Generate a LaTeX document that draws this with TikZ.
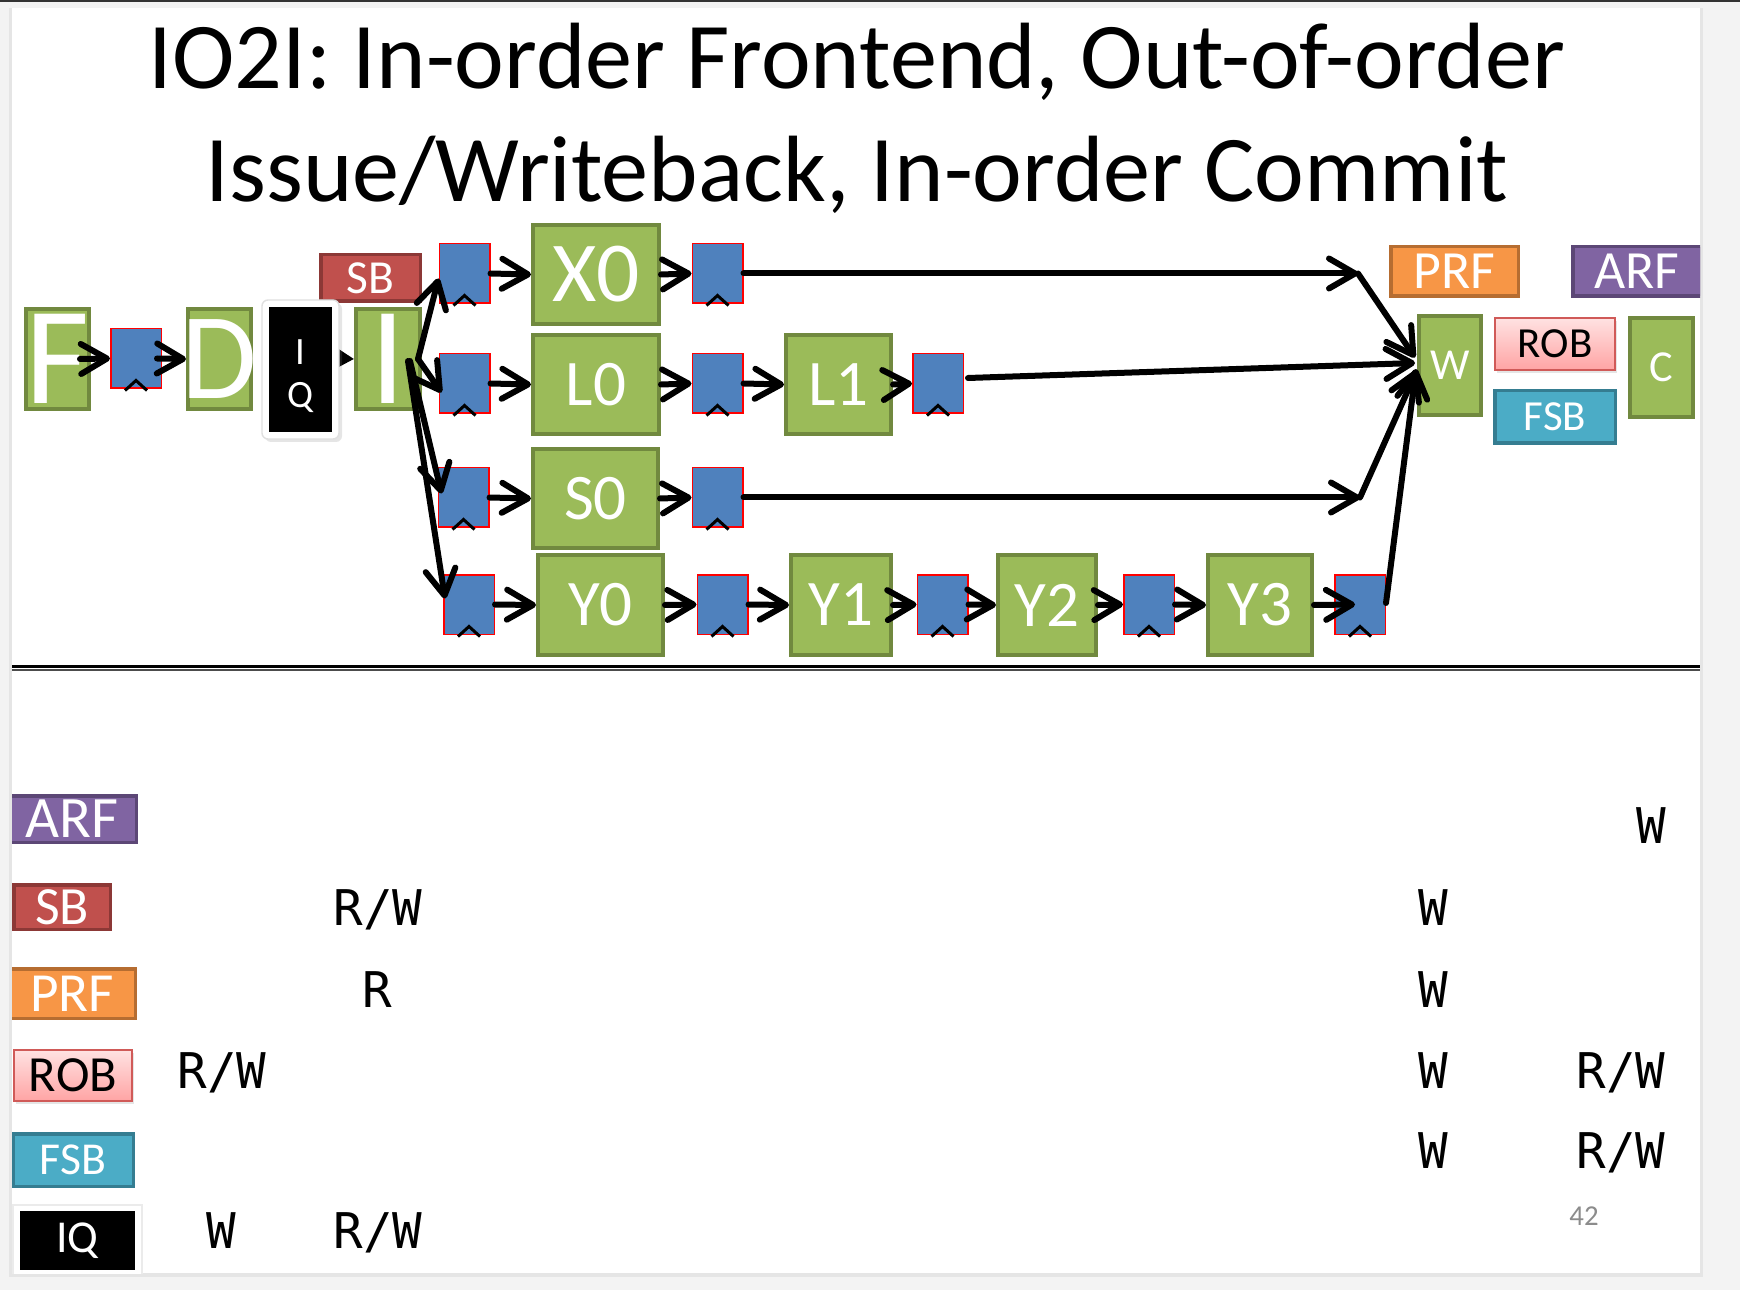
\documentclass[tikz,border=0pt]{standalone}
\usepackage{fontspec}
\setmainfont{Carlito}
\newfontfamily\monofont{DejaVu Sans Mono}
\usepackage{xcolor}
\usepackage{tikz}
\usetikzlibrary{arrows.meta, positioning, shadows}

\definecolor{stagegreen}{HTML}{9BBB59}
\definecolor{stageedge}{HTML}{71893F}
\definecolor{latchblue}{HTML}{4F81BD}
\definecolor{sbred}{HTML}{C0504D}
\definecolor{sbedge}{HTML}{8C3836}
\definecolor{prforange}{HTML}{F79646}
\definecolor{prfedge}{HTML}{B66D31}
\definecolor{arfpurple}{HTML}{8064A2}
\definecolor{arfedge}{HTML}{5C4776}
\definecolor{fsbcyan}{HTML}{4BACC6}
\definecolor{fsbedge}{HTML}{357D91}
\definecolor{robtop}{HTML}{FFE2E2}
\definecolor{robbot}{HTML}{FFA4A4}
\definecolor{robedge}{HTML}{D05A58}
\definecolor{slidegray}{HTML}{F3F3F3}

\newcommand{\fsz}[1]{\fontsize{#1}{#1}\selectfont}
\newcommand{\zwbox}[1]{\makebox[0pt]{#1}}

\begin{document}
\begin{tikzpicture}[x=0.1mm, y=-0.1mm,
        stage/.style={draw=stageedge, fill=stagegreen, line width=0.4mm, inner sep=0pt, text=white},
        latch/.style={draw=red, fill=latchblue, line width=0.15mm, inner sep=0pt, minimum width=5.05mm, minimum height=5.95mm},
        clk/.style={line width=0.3mm},
        tag/.style={line width=0.35mm, inner sep=0pt, text=white},
        arr/.style={line width=0.6mm, line cap=round, -{Straight Barb[length=2.6mm, width=3mm, round]}},
        entry/.style={anchor=base, font=\monofont\fsz{14}}]
        \useasboundingbox (0,0) rectangle (1740,1290);

        % Slide
        \fill[slidegray] (0,0) rectangle (1740,1290);
        \fill[black!80] (0,0) rectangle (1740,2.5);
        \fill[black!10] (9,8) rectangle (1703,1277);
        \fill[white] (12,8) rectangle (1700,1273);

        \begin{scope}
        \clip (12,8) rectangle (1700,1273);

        % Title
        \node[anchor=base, font=\fsz{26.8}] (title1) at (857,89) {IO2I: In-order Frontend, Out-of-order};
        \node[anchor=base, font=\fsz{26.8}] (title2) at (857,202) {Issue/Writeback, In-order Commit};

        % Frontend
        \node[stage, minimum width=6.3mm, minimum height=10mm, font=\fsz{39.6}] (F) at (57.5,359) {\zwbox{F}};
        \node[stage, minimum width=6.3mm, minimum height=10mm, font=\fsz{35}] (D) at (219.5,359) {\zwbox{D}};
        \node[stage, minimum width=6.4mm, minimum height=10mm, font=\fsz{39.6}] (I) at (388,359) {\zwbox{I}};
        \node[tag, draw=sbedge, fill=sbred, minimum width=9.95mm, minimum height=4.65mm, font=\fsz{13.5}] (SB) at (370.5,278) {SB};
        \draw[line width=0.4mm, -{Triangle[length=1.8mm, width=2mm]}] (332,358) -- (I.west);
        \node[fill=white, draw=black!12, rounded corners=0.6mm, minimum width=7.7mm, minimum height=13.9mm,
              drop shadow={opacity=0.2, shadow xshift=0.3mm, shadow yshift=-0.3mm}] (IQframe) at (300.5,369.5) {};
        \node[fill=black, inner sep=0pt, minimum width=6.3mm, minimum height=12.5mm] (IQ) at (300.5,369.5) {};
        \node[text=white, font=\fsz{11}] (IQi) at (300.5,352) {I};
        \node[text=white, font=\fsz{11}] (IQq) at (300.5,398) {Q};

        % Execution pipes
        \node[stage, minimum width=12.6mm, minimum height=9.9mm, font=\fsz{24.3}] (X0) at (596,274.5) {X0};
        \foreach \n/\x/\y/\w in {L0/596/384.5/12.6, S0/595.5/498.5/12.5, Y0/600.5/605/12.5, L1/838.5/384.5/10.5,
                                 Y1/841/605/10.0, Y2/1047/605/9.8, Y3/1260/605/10.4} {
            \node[stage, minimum width=\w mm, minimum height=9.95mm, font=\fsz{18.5}] (\n) at (\x,\y) {\zwbox{\n}};
        }

        % Writeback / commit
        \node[stage, minimum width=6.2mm, minimum height=9.9mm, font=\fsz{12.6}] (W) at (1450,365.5) {W};
        \node[stage, minimum width=6.3mm, minimum height=9.9mm, font=\fsz{12.6}] (C) at (1661.5,367.5) {C};
        \node[tag, draw=prfedge, fill=prforange, minimum width=12.75mm, minimum height=4.95mm, font=\fsz{15.3}] (PRF) at (1454.5,271.5) {PRF};
        \node[tag, draw=arfedge, fill=arfpurple, minimum width=12.85mm, minimum height=4.95mm, font=\fsz{15.3}] (ARF) at (1637,271.5) {ARF};
        \node[tag, line width=0.2mm, draw=robedge, top color=robtop, bottom color=robbot, text=black, minimum width=12mm, minimum height=5.2mm,
              font=\fsz{12.2}, drop shadow={opacity=0.2, shadow xshift=0.2mm, shadow yshift=-0.3mm}] (ROB) at (1555,344) {ROB};
        \node[tag, draw=fsbedge, fill=fsbcyan, minimum width=12.05mm, minimum height=5.25mm, font=\fsz{12.2}] (FSB) at (1555,417) {FSB};

        % Pipeline registers
        \foreach \n/\x/\y in {lat0/136/358.5, l1a/464.5/273.5, l1b/717.5/273.5, l2a/464.5/383.5, l2b/717.5/383.5,
                              l2c/938/383.5, l3a/463.5/497.5, l3b/717.5/497.5, l4a/469/604.5, l4b/722.5/604.5,
                              l4c/942.5/604.5, l4d/1149/604.5, l4e/1360/604.5} {
            \node[latch] (\n) at (\x,\y) {};
            \draw[clk] ([xshift=-1.1mm, yshift=-0.15mm]\n.south) -- ([yshift=0.85mm]\n.south) -- ([xshift=1.1mm, yshift=-0.15mm]\n.south);
        }

        % Frontend arrows
        \draw[arr] ([xshift=-1.1mm]F.east) -- (lat0.west);
        \draw[arr] ([xshift=-0.5mm]lat0.east) -- (D.west);

        % Issue arrows
        \draw[arr] ([xshift=-0.4mm]I.east) -- ([yshift=-0.5mm]l1a.west);
        \draw[arr] ([xshift=-0.4mm]I.east) -- ([xshift=0.3mm, yshift=-0.9mm]l2a.west);
        \draw[arr] ([xshift=-1.2mm, yshift=-0.2mm]I.east) -- ([xshift=0.4mm, yshift=0.4mm]l3a.west);
        \draw[arr] ([xshift=-1.4mm, yshift=-0.2mm]I.east) -- ([xshift=0.2mm, yshift=0.6mm]l4a.west);

        % Row arrows
        \foreach \a/\b in {l1a/X0, X0/l1b, l2a/L0, L0/l2b, l2b/L1, L1/l2c, l3a/S0, S0/l3b,
                           l4a/Y0, Y0/l4b, l4b/Y1, Y1/l4c, l4c/Y2, Y2/l4d, l4d/Y3} {
            \draw[arr] (\a.east) -- (\b.west);
        }
        \draw[arr] (Y3.east) -- ([xshift=2.1mm]l4e.west);

        % To writeback
        \coordinate (c1) at (1358,273.5);
        \coordinate (c3) at (1360,497.5);
        \draw[arr] (l1b.east) -- (c1);
        \draw[arr] (c1) -- ([xshift=-0.2mm, yshift=0.8mm]W.west);
        \draw[arr] ([xshift=0.4mm, yshift=0.55mm]l2c.east) -- ([xshift=-0.2mm, yshift=0.25mm]W.west);
        \draw[arr] (l3b.east) -- (c3);
        \draw[arr] (c3) -- ([yshift=-0.45mm]W.west);
        \draw[arr] ([yshift=0.15mm]l4e.east) -- ([xshift=-0.1mm, yshift=-0.35mm]W.west);

        % Separator
        \draw[line width=0.3mm] (12,666) -- (1700,666);
        \draw[line width=0.15mm, black!70] (12,670) -- (1700,670);

        % Legend
        \node[tag, draw=arfedge, fill=arfpurple, minimum width=12.85mm, minimum height=4.65mm, font=\fsz{16.7}] (ARFkey) at (72,819) {ARF};
        \node[tag, draw=sbedge, fill=sbred, minimum width=9.65mm, minimum height=4.45mm, font=\fsz{15.3}] (SBkey) at (62,907) {SB};
        \node[tag, draw=prfedge, fill=prforange, minimum width=12.65mm, minimum height=4.95mm, font=\fsz{15.7}] (PRFkey) at (72,993.5) {PRF};
        \node[tag, line width=0.2mm, draw=robedge, top color=robtop, bottom color=robbot, text=black, minimum width=11.8mm, minimum height=5.1mm,
              font=\fsz{14.4}, drop shadow={opacity=0.2, shadow xshift=0.2mm, shadow yshift=-0.3mm}] (ROBkey) at (73,1075.5) {ROB};
        \node[tag, draw=fsbedge, fill=fsbcyan, minimum width=12.05mm, minimum height=5.25mm, font=\fsz{13}] (FSBkey) at (73,1160) {FSB};
        \node[fill=white, draw=black!8, minimum width=12.9mm, minimum height=7.1mm] (IQkeyframe) at (77.5,1240.5) {};
        \node[tag, fill=black, minimum width=11.5mm, minimum height=5.9mm, font=\fsz{13}] (IQkey) at (77.5,1240.5) {IQ};

        % Access table
        \foreach \x/\y/\v in {1651/843/W,
                              378/925/R\slash W, 1433/925/W,
                              377/1007/R, 1433/1007/W,
                              222/1088/R\slash W, 1433/1088/W, 1621/1088/R\slash W,
                              1433/1168/W, 1621/1168/R\slash W,
                              221/1248/W, 378/1248/R\slash W} {
            \node[entry] at (\x,\y) {\v};
        }
        \node[anchor=base, text=black!45, font=\fsz{8.2}] (pagenum) at (1584,1225) {42};
        \end{scope}
    \end{tikzpicture}
\end{document}
